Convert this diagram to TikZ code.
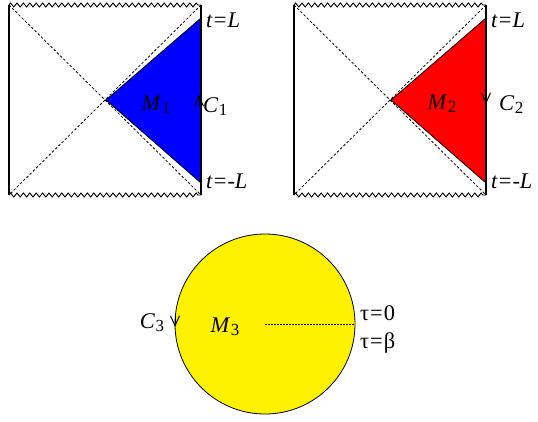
\documentclass[tikz,border=0pt]{standalone}
\usepackage{fontspec}
\setmainfont{Liberation Serif}
\usetikzlibrary{decorations.pathmorphing,arrows.meta}
\tikzset{
  lab/.style={font=\fontsize{22.5}{22.5}\selectfont,inner sep=0pt},
  side/.style={black,line width=1.1bp},
  wavy/.style={black,line width=0.9bp,decorate,decoration={zigzag,segment length=6.4bp,amplitude=2bp}},
  diag/.style={black,line width=0.8bp,dash pattern=on 2.5bp off 2bp},
  wedge/.style={draw=black,line width=0.8bp},
  chev/.style={black,line width=1bp,-{Straight Barb[length=10bp,width=9bp]}},
}
\newcommand{\lo}[1]{\kern0.5bp\raisebox{-3bp}{\fontsize{17}{17}\selectfont #1}}
\newcommand{\eq}{\kern1bp=\kern1bp}

\begin{document}
\begin{tikzpicture}[x=1bp,y=-1bp]
  \useasboundingbox (0,0) rectangle (538,421);
  % left diagram
  \coordinate (tl1) at (9,5);
  \coordinate (tr1) at (201,5);
  \coordinate (bl1) at (9,195);
  \coordinate (br1) at (201,195);
  \coordinate (o1) at (106,100);
  \coordinate (p1) at (201,18);
  \coordinate (q1) at (201,183);
  \filldraw[wedge,fill=blue] (o1) -- (p1) -- (q1) -- cycle;
  \draw[side] (tl1) -- (bl1);
  \draw[side] (tr1) -- (br1);
  \draw[wavy] (tl1) -- (tr1);
  \draw[wavy] (bl1) -- (br1);
  \draw[diag] (tl1) -- (br1);
  \draw[diag] (tr1) -- (bl1);
  \draw[chev] (199,106) -- (199,95);
  \node[lab,anchor=west] (tp1) at (206,20) {\textit{t}\eq\textit{L}};
  \node[lab,anchor=west] (tm1) at (206,181) {\textit{t}\eq-\textit{L}};
  \node[lab] (m1) at (156,105) {\textit{M}\lo{1}};
  \node[lab,anchor=west] (c1) at (203,107) {\textit{C}\lo{1}};
  % right diagram
  \coordinate (tl2) at (294,5);
  \coordinate (tr2) at (486,5);
  \coordinate (bl2) at (294,195);
  \coordinate (br2) at (486,195);
  \coordinate (o2) at (391,100);
  \coordinate (p2) at (486,18);
  \coordinate (q2) at (486,183);
  \filldraw[wedge,fill=red] (o2) -- (p2) -- (q2) -- cycle;
  \draw[side] (tl2) -- (bl2);
  \draw[side] (tr2) -- (br2);
  \draw[wavy] (tl2) -- (tr2);
  \draw[wavy] (bl2) -- (br2);
  \draw[diag] (tl2) -- (br2);
  \draw[diag] (tr2) -- (bl2);
  \draw[chev] (486,93) -- (486,104);
  \node[lab,anchor=west] (tp2) at (491,20) {\textit{t}\eq\textit{L}};
  \node[lab,anchor=west] (tm2) at (491,181) {\textit{t}\eq-\textit{L}};
  \node[lab] (m2) at (442,104) {\textit{M}\lo{2}};
  \node[lab,anchor=west] (c2) at (499,105) {\textit{C}\lo{2}};
  % euclidean disc
  \coordinate (o3) at (265,324);
  \coordinate (r3) at (355,324);
  \filldraw[fill=yellow,draw=black,line width=0.8bp] (o3) circle (90);
  \draw[black,line width=0.8bp,dash pattern=on 2bp off 1bp] (o3) -- (r3);
  \draw[chev] (175,315) -- (175,327);
  \node[lab] (m3) at (225,327) {\textit{M}\lo{3}};
  \node[lab] (c3) at (152,323) {\textit{C}\lo{3}};
  \node[lab,anchor=west] (ta) at (360,313) {τ\eq0};
  \node[lab,anchor=west] (tb) at (360,343) {τ\eq β};
\end{tikzpicture}
\end{document}
